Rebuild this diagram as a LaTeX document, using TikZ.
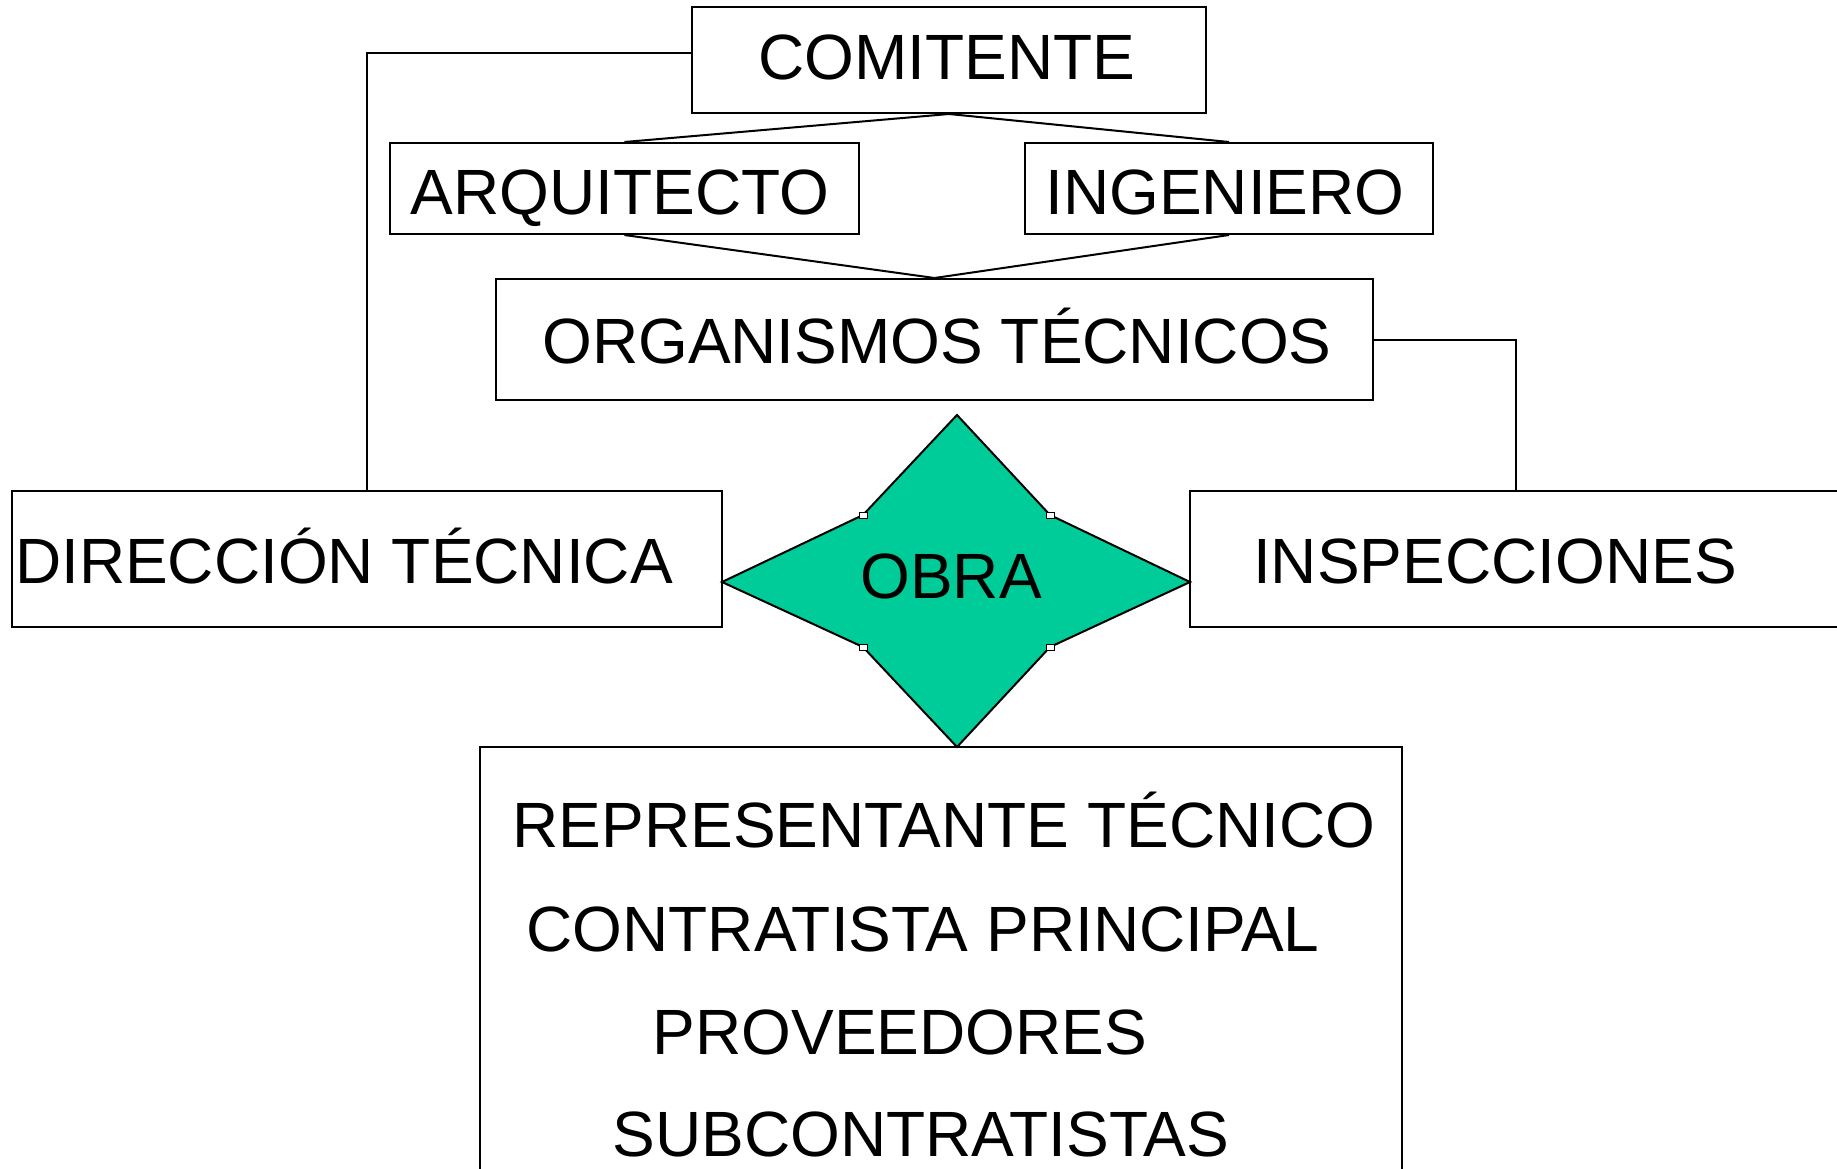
\documentclass[tikz,border=0pt]{standalone}
\usepackage{fontspec}
\setmainfont{Liberation Sans}
\definecolor{obracol}{RGB}{0,204,153}
\begin{document}
\begin{tikzpicture}[x=0.5pt,y=-0.5pt,
  box/.style={draw,line width=1pt,inner sep=0pt},
  txt/.style={inner sep=0pt,text height=22.9pt,text depth=0pt,font=\fontsize{32}{38}\selectfont},
  conn/.style={line width=1pt},
  knob/.style={draw,fill=white,line width=0.5pt}]
\path[use as bounding box,clip] (0,0) rectangle (1837,1168);
\fill[white] (0,0) rectangle (1837,1168);
% boxes
\node[box,minimum width=257pt,minimum height=53pt] (com) at (949,60) {};
\node[box,minimum width=234.5pt,minimum height=45.5pt] (arq) at (624.5,188.5) {};
\node[box,minimum width=204pt,minimum height=45.5pt] (ing) at (1229,188.5) {};
\node[box,minimum width=438.5pt,minimum height=60.5pt] (org) at (934.5,339.5) {};
\node[box,minimum width=355pt,minimum height=68pt] (dir) at (367,559) {};
\node[box,minimum width=355pt,minimum height=68pt] (insp) at (1545,559) {};
\node[box,minimum width=461pt,minimum height=236.5pt] (rep) at (941,983.5) {};
% star
\coordinate (st) at (957,415);
\coordinate (sr) at (1190,582);
\coordinate (sb) at (957,747);
\coordinate (sl) at (722,582);
\coordinate (k1) at (1050,515);
\coordinate (k2) at (1050,647);
\coordinate (k3) at (863,647);
\coordinate (k4) at (863,515);
\draw[fill=obracol,line width=1pt,line join=miter] (st) -- (k1) -- (sr) -- (k2) -- (sb) -- (k3) -- (sl) -- (k4) -- cycle;
\foreach \k in {k1,k2,k3,k4}{\draw[knob] ([xshift=-2pt,yshift=-1.5pt]\k) rectangle ([xshift=2pt,yshift=1.5pt]\k);}
% texts
\node[txt] (tcom) at (947,57) {COMITENTE};
\node[txt] (tarq) at (620,192) {ARQUITECTO};
\node[txt] (ting) at (1225,192) {INGENIERO};
\node[txt] (torg) at (937,341) {ORGANISMOS TÉCNICOS};
\node[txt] (tdir) at (344,561) {DIRECCIÓN TÉCNICA};
\node[txt] (tinsp) at (1495,561) {INSPECCIONES};
\node[txt] (tobra) at (951,576) {OBRA};
\node[txt] (t1) at (944,825) {REPRESENTANTE TÉCNICO};
\node[txt] (t2) at (923,929) {CONTRATISTA PRINCIPAL};
\node[txt] (t3) at (900,1032) {PROVEEDORES};
\node[txt] (t4) at (921,1134) {SUBCONTRATISTAS};
% connectors
\coordinate (c1) at (367,53);
\coordinate (c2) at (1516,339.5);
\draw[conn] (com.west |- c1) -- (c1) -- (dir.north -| c1);
\draw[conn] (org.east) -- (c2) -- (insp.north -| c2);
\draw[conn] (com.south) -- (arq.north);
\draw[conn] (com.south) -- (ing.north);
\draw[conn] (arq.south) -- (org.north);
\draw[conn] (ing.south) -- (org.north);
\end{tikzpicture}
\end{document}
